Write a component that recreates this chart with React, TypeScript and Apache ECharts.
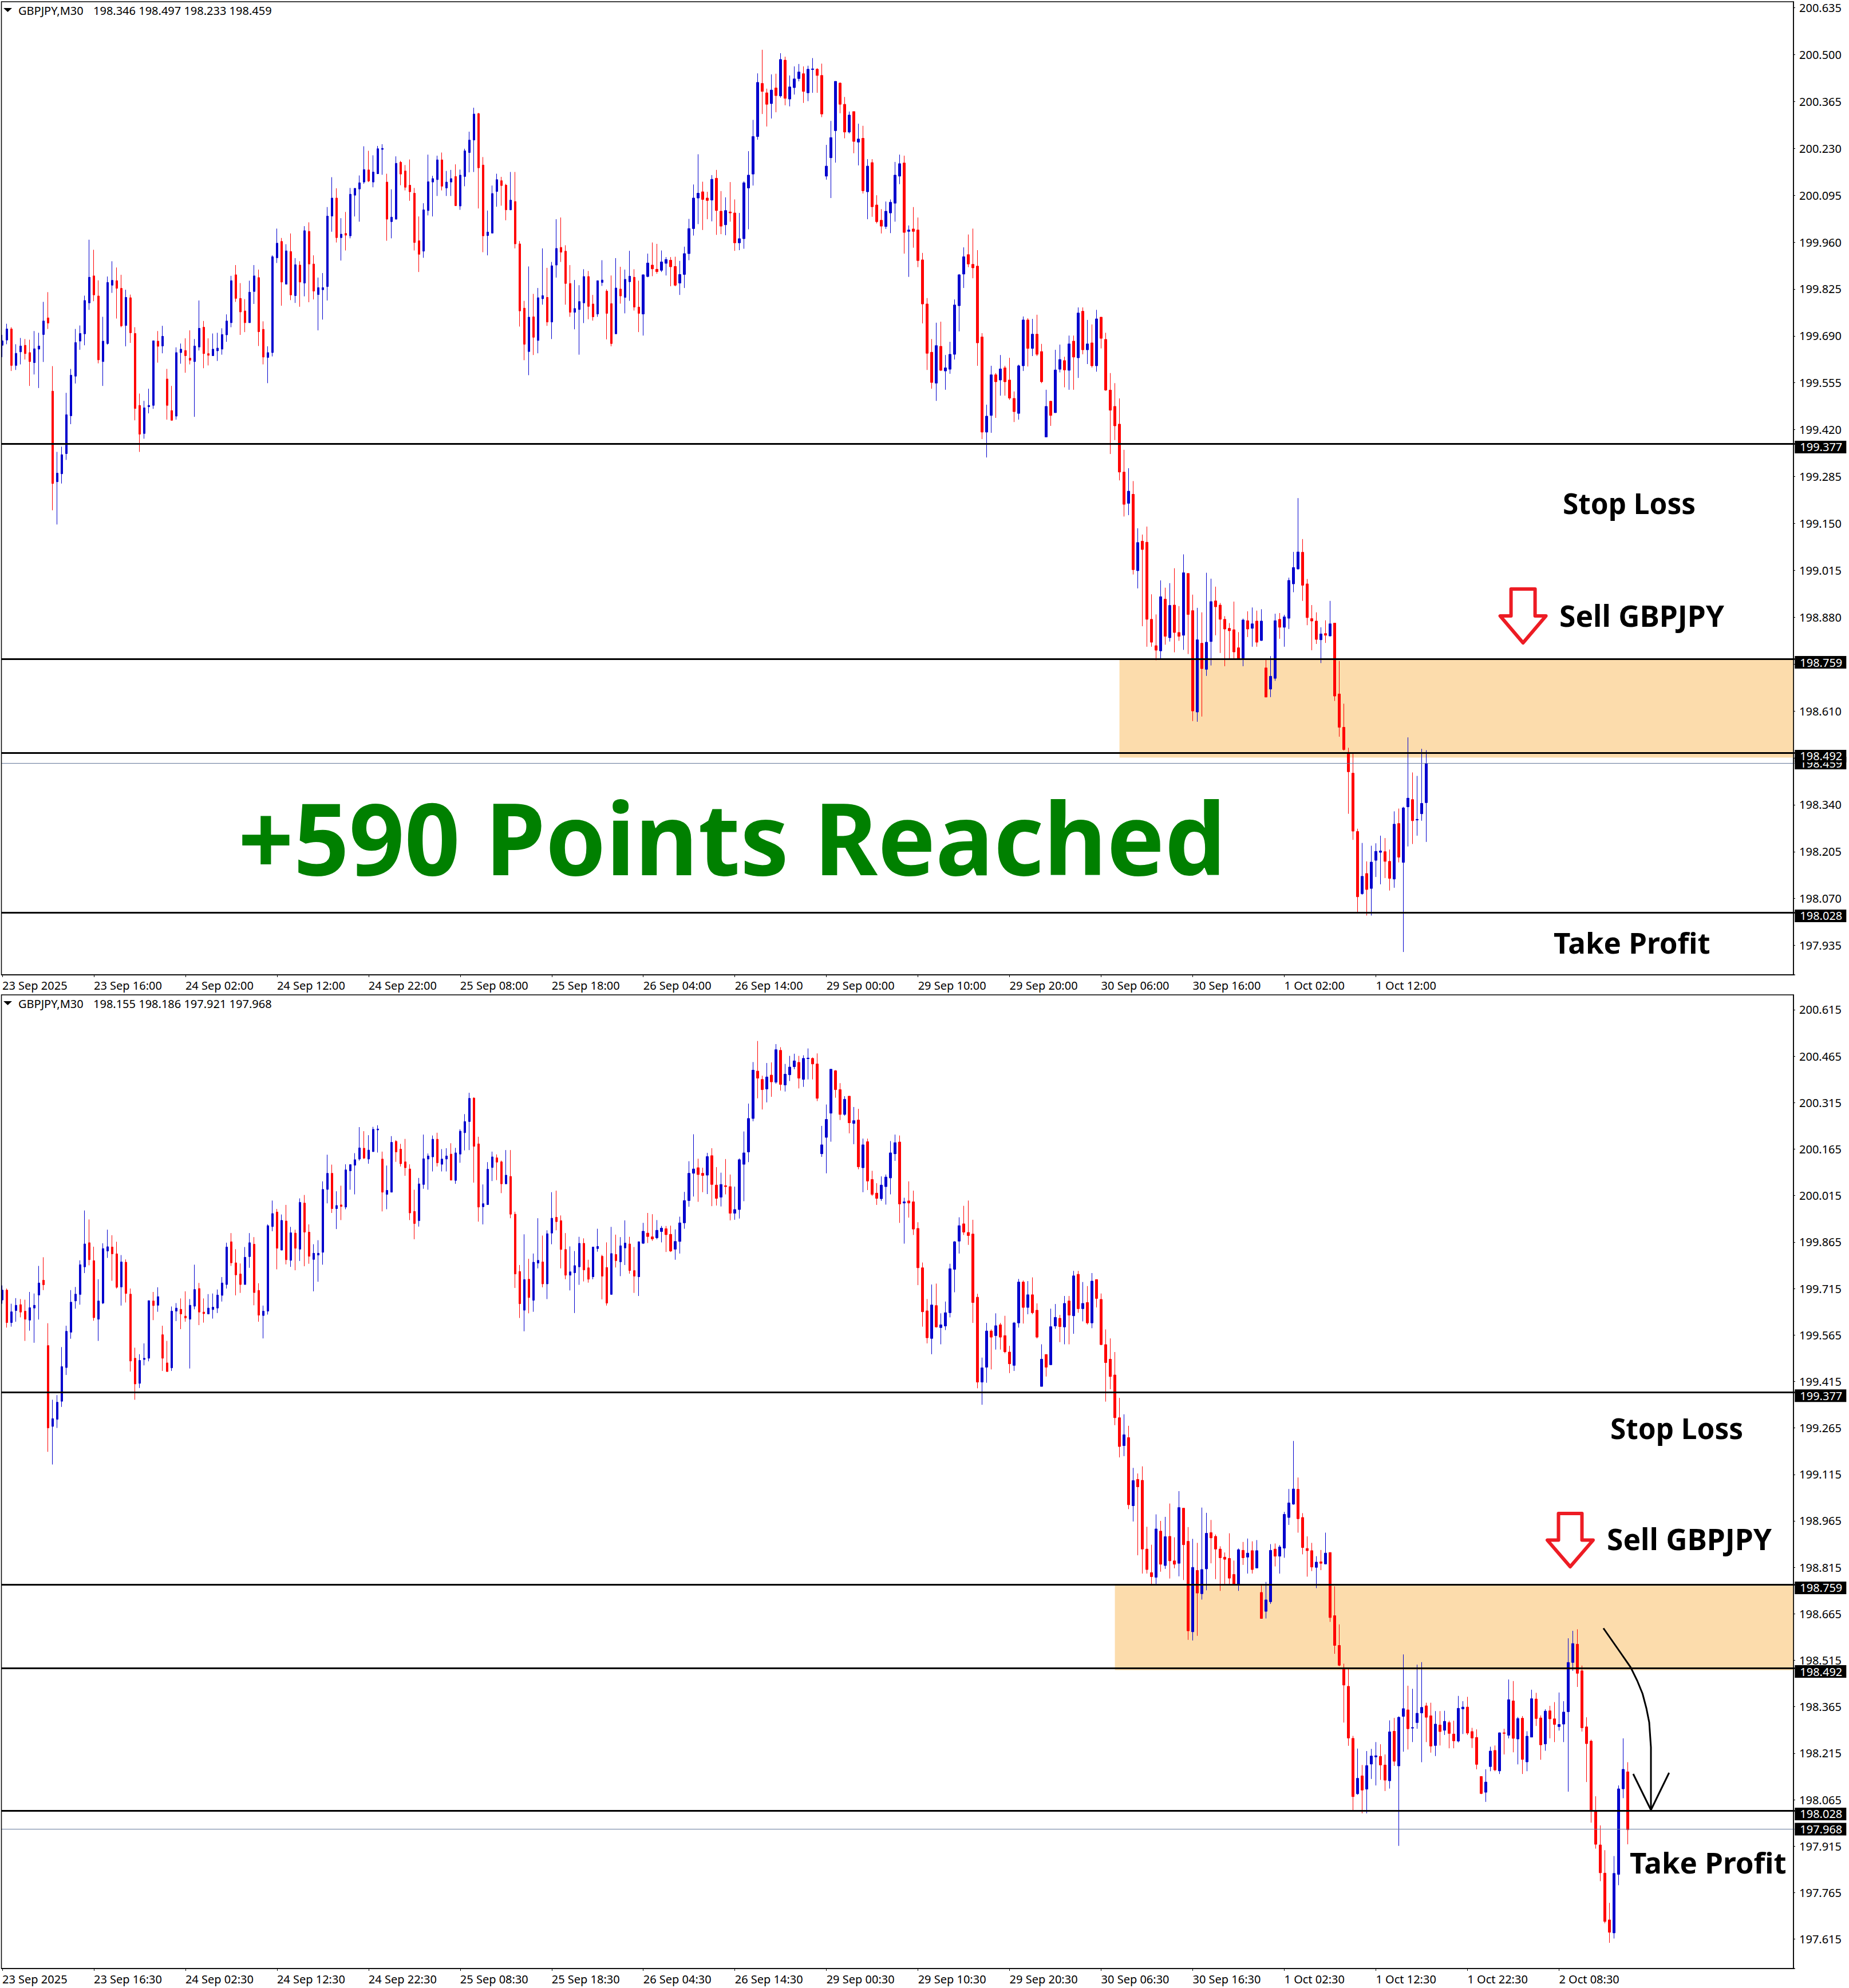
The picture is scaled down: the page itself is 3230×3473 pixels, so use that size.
import React, { useEffect, useRef } from "react";
import * as echarts from "echarts";

type Bar = [number, number, number, number]; // open, high, low, close

const barsPart1: Bar[] = [
[199.663,199.693,199.629,199.676],[199.678,199.725,199.666,199.710],[199.710,199.715,199.589,199.605],[199.605,199.666,199.592,199.640],[199.644,199.684,199.608,199.661],
[199.663,199.681,199.622,199.639],[199.642,199.679,199.546,199.616],[199.613,199.704,199.579,199.653],[199.652,199.699,199.540,199.661],[199.694,199.788,199.615,199.733],
[199.742,199.816,199.710,199.727],[199.531,199.603,199.188,199.265],[199.270,199.356,199.147,199.295],[199.293,199.371,199.265,199.348],[199.351,199.526,199.333,199.463],
[199.460,199.595,199.436,199.577],[199.574,199.710,199.553,199.671],[199.675,199.720,199.650,199.697],[199.696,199.806,199.663,199.792],[199.785,199.967,199.765,199.859],
[199.863,199.938,199.790,199.808],[199.805,199.850,199.611,199.621],[199.616,199.745,199.546,199.675],[199.668,199.861,199.665,199.844],[199.836,199.905,199.814,199.850],
[199.849,199.887,199.740,199.827],[199.827,199.866,199.715,199.719],[199.720,199.823,199.660,199.801],[199.800,199.809,199.670,199.699],[199.697,199.715,199.447,199.481],
[199.490,199.524,199.356,199.407],[199.409,199.503,199.394,199.483],[199.486,199.538,199.467,199.490],[199.490,199.676,199.480,199.676],[199.675,199.704,199.613,199.660],
[199.661,199.719,199.640,199.689],[199.566,199.595,199.449,199.490],[199.475,199.546,199.447,199.447],[199.459,199.657,199.449,199.642],[199.642,199.668,199.610,199.652],
[199.648,199.683,199.584,199.633],[199.626,199.706,199.608,199.620],[199.616,199.681,199.457,199.661],[199.658,199.792,199.648,199.712],[199.715,199.733,199.597,199.639],
[199.639,199.683,199.605,199.634],[199.633,199.697,199.633,199.652],[199.647,199.699,199.618,199.655],[199.652,199.712,199.636,199.694],[199.693,199.752,199.673,199.733],
[199.728,199.863,199.715,199.849],[199.866,199.894,199.788,199.798],[199.798,199.842,199.693,199.759],[199.762,199.796,199.701,199.728],[199.728,199.849,199.728,199.816],
[199.818,199.894,199.782,199.863],[199.858,199.881,199.661,199.702],[199.709,199.732,199.608,199.629],[199.628,199.660,199.554,199.642],[199.642,199.922,199.631,199.918],
[199.915,199.999,199.900,199.957],[199.962,199.972,199.777,199.845],[199.839,199.954,199.839,199.935],[199.933,199.985,199.793,199.808],[199.806,199.914,199.785,199.895],
[199.894,199.905,199.774,199.845],[199.842,200.006,199.804,199.993],[199.991,200.017,199.787,199.897],[199.897,199.922,199.795,199.819],[199.809,199.858,199.706,199.829],
[199.823,199.871,199.737,199.829],[199.832,200.061,199.792,200.035],[200.035,200.147,199.990,200.087],[200.087,200.115,199.959,199.973],[199.973,200.029,199.907,199.983],
[199.985,200.047,199.936,199.980],[199.978,200.116,199.971,200.098],[200.095,200.115,200.034,200.115],[200.113,200.152,200.019,200.131],[200.133,200.236,200.128,200.169],
];

const barsPart2: Bar[] = [
[200.168,200.223,200.133,200.136],[200.133,200.210,200.118,200.162],[200.157,200.237,200.156,200.229],[200.227,200.242,200.154,200.230],[200.133,200.157,199.964,200.026],
[200.019,200.112,199.971,200.032],[200.026,200.207,200.026,200.187],[200.190,200.194,200.124,200.156],[200.165,200.182,200.109,200.118],[200.124,200.198,200.079,200.105],
[200.101,200.116,199.936,199.959],[199.964,200.034,199.874,199.925],[199.934,200.072,199.915,200.053],[200.051,200.212,200.037,200.134],[200.133,200.151,200.034,200.143],
[200.140,200.209,200.093,200.197],[200.197,200.218,200.109,200.121],[200.116,200.165,200.093,200.133],[200.133,200.168,200.093,200.143],[200.149,200.184,200.064,200.065],
[200.064,200.169,200.053,200.153],[200.149,200.229,200.121,200.223],[200.218,200.278,200.161,200.254],[200.254,200.347,200.162,200.329],[200.330,200.332,200.057,200.174],
[200.182,200.205,199.931,199.978],[199.979,200.051,199.922,199.989],[199.986,200.123,199.986,200.100],[200.106,200.157,200.062,200.140],[200.137,200.148,200.065,200.123],
[200.124,200.128,200.023,200.053],[200.053,200.162,200.052,200.081],[200.077,200.162,199.942,199.955],[199.955,199.963,199.717,199.762],[199.770,199.791,199.620,199.666],
[199.645,199.890,199.577,199.744],[199.745,199.811,199.635,199.686],[199.677,199.828,199.640,199.800],[199.797,199.942,199.780,199.806],[199.801,199.886,199.719,199.730],
[199.730,199.903,199.681,199.892],[199.894,200.026,199.858,199.942],[199.945,200.031,199.903,199.931],[199.934,199.951,199.780,199.841],[199.841,199.894,199.745,199.758],
[199.758,199.851,199.709,199.769],[199.766,199.836,199.636,199.789],[199.785,199.882,199.727,199.861],[199.861,199.877,199.738,199.775],[199.782,199.808,199.734,199.745],
[199.753,199.849,199.745,199.849],[199.844,199.908,199.834,199.851],[199.819,199.824,199.680,199.755],[199.783,199.864,199.660,199.668],[199.696,199.914,199.696,199.828],
[199.825,199.889,199.783,199.805],[199.801,199.881,199.755,199.853],[199.846,199.935,199.791,199.862],[199.859,199.882,199.763,199.773],[199.773,199.849,199.701,199.755],
[199.753,199.867,199.691,199.866],[199.861,199.927,199.859,199.900],[199.894,199.959,199.862,199.883],[199.882,199.955,199.869,199.875],[199.879,199.936,199.874,199.903],
[199.899,199.917,199.864,199.910],[199.908,199.917,199.833,199.889],[199.890,199.918,199.833,199.836],[199.842,199.906,199.808,199.867],[199.867,199.947,199.828,199.927],
[199.927,200.027,199.908,199.999],[199.999,200.126,199.979,200.087],[200.087,200.213,200.012,200.101],[200.105,200.134,199.995,200.083],[200.087,200.105,200.026,200.080],
[200.081,200.153,200.020,200.141],[200.144,200.168,199.981,200.051],
];

const barsPart3: Bar[] = [
[200.049,200.107,199.983,200.006],[200.010,200.089,199.980,200.051],[200.047,200.133,200.019,200.044],[200.044,200.083,199.935,199.958],[199.958,200.044,199.937,199.970],
[199.970,200.135,199.941,200.131],[200.116,200.222,199.997,200.153],[200.156,200.312,200.123,200.264],[200.264,200.446,200.255,200.420],[200.417,200.514,200.329,200.394],
[200.390,200.402,200.293,200.357],[200.359,200.443,200.316,200.398],[200.404,200.445,200.334,200.382],[200.381,200.504,200.376,200.486],[200.484,200.494,200.354,200.374],
[200.372,200.440,200.351,200.407],[200.405,200.466,200.385,200.430],[200.431,200.473,200.423,200.450],[200.445,200.466,200.361,200.394],[200.390,200.468,200.366,200.458],
[200.457,200.490,200.390,200.459],[200.458,200.461,200.390,200.440],[200.440,200.474,200.320,200.329],[200.150,200.240,200.140,200.179],[200.203,200.309,200.087,200.261],
[200.281,200.423,200.189,200.423],[200.418,200.420,200.331,200.357],[200.357,200.378,200.259,200.277],[200.277,200.336,200.273,200.326],[200.336,200.336,200.216,200.250],
[200.248,200.301,200.181,200.257],[200.259,200.295,200.100,200.108],[200.105,200.199,200.026,200.179],[200.189,200.199,200.033,200.062],[200.067,200.095,200.014,200.019],
[200.023,200.055,199.985,200.006],[200.005,200.077,199.998,200.049],[200.044,200.083,199.986,200.075],[200.072,200.191,200.019,200.153],[200.150,200.212,200.127,200.186],
[200.188,200.209,199.927,199.988],[199.991,200.008,199.860,199.995],[199.998,200.061,199.944,199.991],[199.995,200.031,199.888,199.907],[199.909,199.929,199.726,199.782],
[199.782,199.799,199.592,199.640],[199.643,199.681,199.538,199.556],[199.554,199.728,199.503,199.662],[199.660,199.731,199.589,199.591],[199.589,199.635,199.535,199.598],
[199.594,199.673,199.581,199.637],[199.637,199.795,199.622,199.779],[199.777,199.868,199.703,199.866],[199.868,199.945,199.828,199.918],[199.924,199.982,199.888,199.897],
[199.896,199.999,199.856,199.886],[199.891,199.937,199.604,199.670],[199.687,199.698,199.393,199.413],[199.413,199.492,199.340,199.459],[199.461,199.604,199.411,199.578],
[199.578,199.583,199.454,199.558],[199.563,199.635,199.518,199.595],[199.598,199.604,199.518,199.558],[199.563,199.627,199.506,199.511],[199.510,199.530,199.442,199.472],
[199.467,199.607,199.449,199.604],[199.604,199.746,199.589,199.736],[199.736,199.741,199.602,199.654],[199.654,199.739,199.632,199.695],[199.695,199.751,199.632,199.637],
[199.645,199.667,199.554,199.558],[199.399,199.535,199.399,199.487],[199.502,199.503,199.431,199.461],[199.469,199.650,199.469,199.592],[199.594,199.665,199.585,199.622],
[199.619,199.630,199.542,199.592],[199.591,199.691,199.535,199.667],[199.675,199.691,199.535,199.629],
];

const barsPart4: Bar[] = [
[199.627,199.772,199.569,199.756],[199.761,199.772,199.637,199.650],[199.650,199.736,199.609,199.667],[199.670,199.723,199.599,199.604],[199.604,199.765,199.587,199.739],
[199.744,199.744,199.654,199.683],[199.680,199.699,199.532,199.534],[199.534,199.583,199.350,199.476],[199.487,199.554,199.390,199.431],[199.436,199.510,199.274,199.298],
[199.298,199.362,199.170,199.205],[199.208,199.309,199.174,199.243],[199.234,199.272,199.003,199.017],[199.014,199.136,198.963,199.095],[199.099,199.118,198.854,199.075],
[199.096,199.141,198.795,198.874],[198.874,198.946,198.795,198.808],[198.798,198.888,198.756,198.785],[198.783,198.986,198.761,198.939],[198.932,198.965,198.801,198.825],
[198.821,198.978,198.810,198.914],[198.915,199.021,198.779,198.836],[198.836,198.912,198.812,198.825],[198.828,199.061,198.786,199.008],[199.006,199.006,198.774,198.888],
[198.899,198.945,198.581,198.610],[198.607,198.907,198.579,198.815],[198.805,198.894,198.594,198.732],[198.730,199.008,198.711,198.808],[198.810,198.991,198.741,198.925],
[198.927,198.968,198.828,198.910],[198.915,198.921,198.777,198.874],[198.874,198.883,198.739,198.846],[198.848,198.863,198.761,198.841],[198.844,198.925,198.761,198.780],
[198.792,198.837,198.760,198.760],[198.760,198.876,198.739,198.872],[198.870,198.897,198.823,198.846],[198.848,198.908,198.795,198.861],[198.869,198.899,198.795,198.808],
[198.813,198.903,198.812,198.869],[198.734,198.758,198.650,198.650],[198.673,198.768,198.650,198.710],[198.704,198.890,198.697,198.870],[198.874,198.892,198.818,198.851],
[198.851,198.887,198.795,198.881],[198.877,198.994,198.846,198.986],[198.976,199.068,198.952,199.023],[199.019,199.223,199.017,199.068],[199.067,199.105,198.927,198.972],
[198.976,198.990,198.857,198.879],[198.876,198.915,198.785,198.869],[198.869,198.894,198.803,198.816],[198.815,198.851,198.748,198.832],[198.833,198.871,198.806,198.828],
[198.826,198.927,198.825,198.861],[198.863,198.863,198.639,198.653],[198.659,198.754,198.536,198.563],[198.563,198.631,198.496,198.499],[198.491,198.504,198.314,198.435],
[198.431,198.491,198.239,198.264],[198.263,198.271,198.027,198.075],[198.084,198.230,198.081,198.134],[198.142,198.177,198.021,198.096],[198.099,198.222,198.021,198.175],
[198.180,198.229,198.132,198.206],[198.203,198.251,198.111,198.207],[198.205,198.244,198.129,198.177],[198.177,198.211,198.093,198.128],[198.126,198.321,198.101,198.284],
[198.286,198.329,198.174,198.189],[198.174,198.334,197.916,198.331],[198.334,198.534,198.220,198.359],[198.355,198.433,198.227,198.294],[198.296,198.423,198.251,198.298],
[198.314,198.501,198.294,198.344],
];

const liveBarTop: Bar = [198.346, 198.497, 198.233, 198.459];
const closedBar: Bar = [198.345, 198.509, 198.186, 198.363];

const barsLater: Bar[] = [
[198.368,198.378,198.251,198.331],[198.336,198.378,198.217,198.238],[198.240,198.351,198.206,198.309],[198.306,198.351,198.240,198.285],[198.289,198.352,198.274,198.318],
[198.314,198.320,198.231,198.279],[198.277,198.320,198.231,198.255],[198.254,198.400,198.250,198.360],[198.358,198.383,198.277,198.364],[198.364,198.397,198.274,198.280],
[198.285,198.297,198.232,198.264],[198.266,198.292,198.163,198.179],[198.140,198.140,198.083,198.085],[198.089,198.163,198.058,198.122],[198.172,198.236,198.157,198.222],
[198.224,198.240,198.157,198.161],[198.158,198.282,198.148,198.281],[198.281,198.294,198.211,198.279],[198.273,198.453,198.263,198.388],[198.384,198.448,198.218,198.263],
[198.261,198.332,198.179,198.327],[198.328,198.335,198.148,198.195],[198.187,198.286,198.157,198.270],[198.267,198.420,198.267,198.391],[198.390,198.410,198.303,198.327],
[198.329,198.337,198.194,198.242],[198.245,198.357,198.223,198.351],[198.352,198.368,198.263,198.326],[198.326,198.380,198.251,198.308],[198.301,198.411,198.288,198.308],
[198.309,198.383,198.251,198.348],[198.349,198.586,198.091,198.508],[198.508,198.610,198.481,198.569],[198.567,198.615,198.429,198.473],[198.481,198.498,198.285,198.297],
[198.300,198.331,198.122,198.246],[198.254,198.259,197.991,198.030],[198.030,198.076,197.907,197.921],[197.919,197.982,197.802,197.829],[197.828,197.902,197.666,197.672],
[197.677,197.732,197.603,197.637],[197.635,197.883,197.617,197.827],[197.824,198.111,197.789,198.100],[198.100,198.263,198.070,198.163],[198.155,198.186,197.921,197.968],
];

const timeLabelsTop = ["23 Sep 2025","23 Sep 16:00","24 Sep 02:00","24 Sep 12:00","24 Sep 22:00","25 Sep 08:00","25 Sep 18:00","26 Sep 04:00","26 Sep 14:00","29 Sep 00:00","29 Sep 10:00","29 Sep 20:00","30 Sep 06:00","30 Sep 16:00","1 Oct 02:00","1 Oct 12:00"];
const timeLabelsBottom = ["23 Sep 2025","23 Sep 16:30","24 Sep 02:30","24 Sep 12:30","24 Sep 22:30","25 Sep 08:30","25 Sep 18:30","26 Sep 04:30","26 Sep 14:30","29 Sep 00:30","29 Sep 10:30","29 Sep 20:30","30 Sep 06:30","30 Sep 16:30","1 Oct 02:30","1 Oct 12:30","1 Oct 22:30","2 Oct 08:30"];
const priceTicksTop = [200.635,200.5,200.365,200.23,200.095,199.96,199.825,199.69,199.555,199.42,199.285,199.15,199.015,198.88,198.745,198.61,198.475,198.34,198.205,198.07,197.935];
const priceTicksBottom = [200.615,200.465,200.315,200.165,200.015,199.865,199.715,199.565,199.415,199.265,199.115,198.965,198.815,198.665,198.515,198.365,198.215,198.065,197.915,197.765,197.615];
const levels = [199.377, 198.759, 198.492, 198.028];
const currentTop = 198.459;
const currentBottom = 197.968;
const zoneTop = [[244, 198.759, 198.476]];
const zoneBottom = [[243, 198.759, 198.483]];

const UI = '"Noto Sans"';
const RED = "#ff0000";
const BLUE = "#0000cd";
const ZONE = "#fcdcac";
const CATS = 392;
const AXIS_X = 3133;
const TICK_FONT = 20;

const toCandle = (b: Bar) => [b[0], b[3], b[2], b[1]];
const categories = (labels: string[]) =>
  Array.from({ length: CATS }, (_, i) => (i % 20 === 0 && labels[i / 20]) || "");

function tag(value: number, dy: number) {
  return {
    show: true,
    position: "end",
    distance: 0,
    offset: [0, dy],
    formatter: value.toFixed(3),
    color: "#fff",
    backgroundColor: "#000",
    fontFamily: UI,
    fontSize: TICK_FONT,
    lineHeight: 20,
    padding: [1, 7, 1, 9],
  };
}

function levelLines(current: number, width: number) {
  return {
    silent: true,
    animation: false,
    symbol: ["none", "none"],
    data: [
      { yAxis: current, lineStyle: { color: "#64789a", width: 1, type: "solid" }, label: tag(current, 0) },
      ...levels.map((v) => ({ yAxis: v, lineStyle: { color: "#000", width, type: "solid" }, label: tag(v, 6) })),
    ],
  };
}

function renderZone(_: any, api: any) {
  const a = api.coord([api.value(0), api.value(1)]);
  const b = api.coord([api.value(0), api.value(2)]);
  return { type: "rect", shape: { x: a[0], y: a[1], width: AXIS_X - a[0], height: b[1] - a[1] }, style: { fill: ZONE } };
}

function xAxis(gridIndex: number, labels: string[]) {
  const show = (_: number, v: string) => v !== "";
  return {
    type: "category",
    gridIndex,
    data: categories(labels),
    axisLine: { show: true, lineStyle: { color: "#000", width: 1.5 } },
    axisTick: { show: true, alignWithLabel: true, interval: show, length: 4, lineStyle: { color: "#000", width: 1 } },
    axisLabel: { show: true, interval: show, align: "left", margin: 8, color: "#000", fontFamily: UI, fontSize: TICK_FONT, hideOverlap: false },
    splitLine: { show: false },
  };
}

function yAxis(gridIndex: number, min: number, max: number, ticks: number[]) {
  return {
    type: "value",
    gridIndex,
    position: "right",
    offset: -2.3,
    min,
    max,
    axisLine: { show: true, onZero: false, lineStyle: { color: "#000", width: 1.5 } },
    axisTick: { show: true, length: 3, customValues: ticks, lineStyle: { color: "#000", width: 1 } },
    axisLabel: { show: true, customValues: ticks, margin: 10, color: "#000", fontFamily: UI, fontSize: TICK_FONT, formatter: (v: number) => v.toFixed(3) },
    splitLine: { show: false },
  };
}

function candles(xAxisIndex: number, rows: Bar[], current: number, width: number) {
  return {
    type: "candlestick",
    xAxisIndex,
    yAxisIndex: xAxisIndex,
    z: 3,
    barWidth: 4,
    data: rows.map(toCandle),
    itemStyle: { color: BLUE, color0: RED, borderColor: BLUE, borderColor0: RED, borderWidth: 1 },
    markLine: levelLines(current, width),
  };
}

function zone(xAxisIndex: number, data: number[][]) {
  return { type: "custom", xAxisIndex, yAxisIndex: xAxisIndex, z: 1, clip: false, silent: true, renderItem: renderZone, encode: { x: 0, y: [1, 2] }, data };
}

const text = (t: string, x: number, y: number, font: string, fill = "#000", scaleX = 1) => ({
  type: "text", x, y, z: 100, scaleX, silent: true,
  style: { text: t, font, fill, textAlign: "left", textVerticalAlign: "middle" },
});

const redArrow = (cx: number, top: number, shoulder: number, tip: number, halfShaft: number, halfHead: number) => ({
  type: "polygon", z: 100, silent: true,
  shape: { points: [[cx - halfShaft, top], [cx + halfShaft, top], [cx + halfShaft, shoulder], [cx + halfHead, shoulder], [cx, tip], [cx - halfHead, shoulder], [cx - halfShaft, shoulder]] },
  style: { fill: "#fff", stroke: "#ed1c24", lineWidth: 6, lineJoin: "round" },
});

const header = (name: string, ohlc: Bar, y: number) => [
  { type: "polygon", z: 100, silent: true, shape: { points: [[6, y - 4], [21, y - 4], [13.5, y + 3]] }, style: { fill: "#000" } },
  text(name, 32, y, `${TICK_FONT}px ${UI}`),
  text(ohlc.map((v) => v.toFixed(3)).join(" "), 163, y, `${TICK_FONT}px ${UI}`),
];

const frame = (top: number, bottom: number) => ({
  type: "rect", z: 100, silent: true,
  shape: { x: 2.5, y: top, width: AXIS_X - 2.5, height: bottom - top },
  style: { fill: "none", stroke: "#000", lineWidth: 1.5 },
});

const annot = (size: number) => `bold ${size}px ${UI}`;

export default function App() {
  const ref = useRef<HTMLDivElement>(null);
  useEffect(() => {
    document.body.style.margin = "0";
    const chart = echarts.init(ref.current!, undefined, { renderer: "svg" });
    const history = [...barsPart1, ...barsPart2, ...barsPart3, ...barsPart4];
    const topRows = [...history, liveBarTop];
    const bottomRows = [...history.slice(1), closedBar, ...barsLater];
    chart.setOption({
      animation: false,
      backgroundColor: "#fff",
      grid: [
        { left: -0.7, top: 3, width: 3136, height: 1700 },
        { left: -0.7, top: 1738, width: 3136, height: 1701 },
      ],
      xAxis: [xAxis(0, timeLabelsTop), xAxis(1, timeLabelsBottom)],
      yAxis: [yAxis(0, 197.8503, 200.6523, priceTicksTop), yAxis(1, 197.52, 200.663, priceTicksBottom)],
      series: [
        zone(0, zoneTop),
        zone(1, zoneBottom),
        candles(0, topRows, currentTop, 3),
        candles(1, bottomRows, currentBottom, 3),
      ],
      graphic: {
        elements: [
          { type: "rect", z: 99, silent: true, shape: { x: 0, y: 0, width: 2, height: 3473 }, style: { fill: "#fff" } },
          frame(3, 1703),
          frame(1738, 3439),
          ...header("GBPJPY,M30", liveBarTop, 18),
          ...header("GBPJPY,M30", barsLater[barsLater.length - 1], 1753),
          text("Stop Loss", 2730, 879, annot(49.5)),
          text("Sell GBPJPY", 2724, 1075, annot(51.5)),
          text("Take Profit", 2714, 1646, annot(51)),
          redArrow(2660.6, 1029, 1076, 1123, 21, 40),
          text("+590 Points Reached", 416, 1461, annot(175), "#008000", 0.9675),
          text("Stop Loss", 2813, 2495, annot(49.5)),
          text("Sell GBPJPY", 2807, 2688, annot(51.5)),
          text("Take Profit", 2847, 3253, annot(51)),
          redArrow(2743, 2644, 2690.6, 2737, 20.5, 40),
          {
            type: "polyline", z: 100, silent: true,
            shape: { points: [[2801, 2844.5], [2830, 2886], [2848.6, 2912.8], [2860, 2936], [2869.4, 2959], [2876, 2984], [2881, 3009], [2884, 3052.5], [2884, 3161]] },
            style: { fill: "none", stroke: "#000", lineWidth: 3 },
          },
          {
            type: "polyline", z: 100, silent: true,
            shape: { points: [[2853, 3099], [2884, 3162], [2915.7, 3097]] },
            style: { fill: "none", stroke: "#000", lineWidth: 3 },
          },
        ],
      },
    });
    return () => chart.dispose();
  }, []);
  return <div ref={ref} style={{ width: 3230, height: 3473 }} />;
}
